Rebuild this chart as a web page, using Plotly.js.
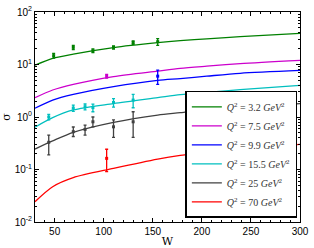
<!DOCTYPE html>
<html>
<head>
<meta charset="utf-8">
<script src="https://cdn.plot.ly/plotly-3.0.1.min.js"></script>
<style>html,body{margin:0;padding:0;background:#fff;}#chart{width:314px;height:248px;}</style>
</head>
<body>
<div id="chart"></div>
<script>
// Curve grid (W) and model curves
const curveW = [30, 48, 69, 110, 155, 178, 205, 239, 300];
const curveQ32 = [9.7, 13.1, 15.8, 21.0, 26.0, 28.4, 30.8, 33.9, 39.0];
const curveQ75 = [2.33, 3.27, 4.2, 5.9, 7.5, 8.45, 9.3, 10.4, 12.0];
const curveQ99 = [1.47, 2.1, 2.7, 3.8, 5.0, 5.4, 6.0, 6.8, 7.7];
const curveQ155 = [0.64, 0.97, 1.36, 1.8, 2.33, 2.66, 2.95, 3.31, 4.0];
const curveQ25 = [0.245, 0.35, 0.51, 0.79, 1.09, 1.21, 1.38, 1.53, 1.8];
const curveQ70 = [0.0244, 0.047, 0.07, 0.105, 0.158, 0.185, 0.21, 0.25, 0.30];

// Measured points
const ptW32 = [49, 69, 89, 110, 130, 155];
const ptS32 = [14.7, 21.2, 18.3, 21.2, 26.3, 27.2];
const ptE32 = [1.5, 2.0, 1.5, 1.5, 2.0, 4.0];
const ptW75 = [103];
const ptS75 = [6.0];
const ptE75 = [0.5];
const ptW99 = [155];
const ptS99 = [6.0];
const ptE99 = [1.8];
const ptW155 = [44, 69, 81, 89, 110, 130];
const ptS155 = [1.0, 1.48, 1.57, 1.51, 1.89, 2.1];
const ptE155 = [0.12, 0.2, 0.2, 0.25, 0.35, 0.6];
const ptW25 = [44, 69, 81, 89, 110, 130];
const ptS25 = [0.33, 0.525, 0.58, 0.81, 0.65, 0.81];
const ptE25p = [0.12, 0.12, 0.12, 0.19, 0.23, 0.45];
const ptE25m = [0.14, 0.1, 0.13, 0.16, 0.24, 0.4];
const ptW70 = [103];
const ptS70 = [0.163];
const ptE70p = [0.08];
const ptE70m = [0.072];

const labels = ['3.2', '7.5', '9.9', '15.5', '25', '70'];
const colors = ['#008000', '#cc00cc', '#0000ff', '#00bfbf', '#404040', '#ff0000'];

const yTickVals = [0.01, 0.1, 1, 10, 100];
const yTickText = ['10<sup>-2</sup>', '10<sup>-1</sup>', '10<sup>0</sup>', '10<sup>1</sup>', '10<sup>2</sup>'];
const xTickVals = [50, 100, 150, 200, 250, 300];

const curves = [curveQ32, curveQ75, curveQ99, curveQ155, curveQ25, curveQ70];
const pts = [
  [ptW32, ptS32, ptE32, ptE32],
  [ptW75, ptS75, ptE75, ptE75],
  [ptW99, ptS99, ptE99, ptE99],
  [ptW155, ptS155, ptE155, ptE155],
  [ptW25, ptS25, ptE25p, ptE25m],
  [ptW70, ptS70, ptE70p, ptE70m]
];

const traces = [];
curves.forEach((c, i) => {
  traces.push({
    x: curveW, y: c, type: 'scatter', mode: 'lines',
    line: {color: colors[i], width: 1.3, shape: 'spline', smoothing: 0.8},
    name: '<i>Q</i><sup>2</sup> = ' + labels[i] + ' <i>GeV</i><sup>2</sup>',
    hoverinfo: 'skip'
  });
});
pts.forEach((p, i) => {
  traces.push({
    x: p[0], y: p[1], type: 'scatter', mode: 'markers', showlegend: false,
    marker: {color: colors[i], size: 3, symbol: 'square'},
    error_y: {type: 'data', symmetric: false, array: p[2], arrayminus: p[3], color: colors[i], thickness: 1.3, width: 1.5},
    hoverinfo: 'skip'
  });
});

const axisCommon = {
  showline: true, linecolor: '#000', linewidth: 1, mirror: 'allticks',
  ticks: 'inside', ticklen: 4, tickcolor: '#000', tickwidth: 1,
  showgrid: false, zeroline: false,
  tickfont: {family: 'Liberation Sans, Arial, sans-serif', size: 10, color: '#000'}
};

const layout = {
  width: 314, height: 248,
  margin: {l: 35, r: 14, t: 12, b: 26},
  paper_bgcolor: '#fff', plot_bgcolor: '#fff',
  showlegend: true,
  xaxis: Object.assign({}, axisCommon, {
    range: [30, 300], tickvals: xTickVals,
    minor: {ticks: 'inside', ticklen: 2, dtick: 10, tickcolor: '#000', showgrid: false},
    title: {text: 'W', font: {family: 'DejaVu Serif, Liberation Serif, serif', size: 11, color: '#000'}, standoff: 2}
  }),
  yaxis: Object.assign({}, axisCommon, {
    type: 'log', range: [-2, 2], tickvals: yTickVals, ticktext: yTickText,
    minor: {ticks: 'inside', ticklen: 2, dtick: 'D1', tickcolor: '#000', showgrid: false},
    title: {text: 'σ', font: {family: 'DejaVu Serif, Liberation Serif, serif', size: 11, color: '#000'}, standoff: 2}
  }),
  legend: {
    x: 0.99, y: 0.02, xanchor: 'right', yanchor: 'bottom',
    bgcolor: '#fff', bordercolor: '#000', borderwidth: 1.5,
    font: {family: 'Liberation Serif, DejaVu Serif, serif', size: 10, color: '#333'},
    itemwidth: 30, tracegroupgap: 0
  }
};

Plotly.newPlot('chart', traces, layout, {staticPlot: true, displayModeBar: false});
</script>
</body>
</html>
